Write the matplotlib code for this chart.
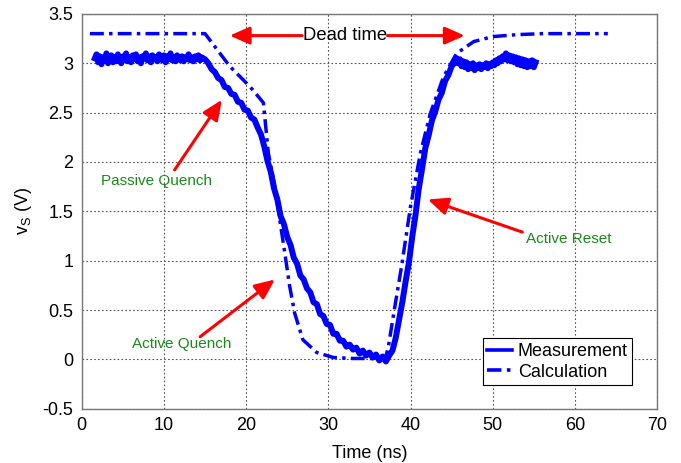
import matplotlib
matplotlib.use('Agg')
import matplotlib.pyplot as plt

# --- fontes ---
plt.rcParams['font.family'] = ['Liberation Sans', 'DejaVu Sans']
plt.rcParams['mathtext.fontset'] = 'custom'
plt.rcParams['mathtext.rm'] = 'Liberation Sans'
plt.rcParams['mathtext.it'] = 'Liberation Sans'

# Medição (ns, V) - patamar inicial
meas_t = [1.6, 1.8, 2.0, 2.2, 2.4, 2.6, 2.8, 3.0, 3.2, 3.4, 3.6, 3.8, 4.0, 4.2, 4.4, 4.6,
          4.8, 5.0, 5.2, 5.4, 5.6, 5.8, 6.0, 6.2, 6.4, 6.6, 6.8, 7.0, 7.2, 7.4, 7.6, 7.8,
          8.0, 8.2, 8.4, 8.6, 8.8, 9.0, 9.2, 9.4, 9.6, 9.8, 10.0, 10.2, 10.4, 10.6, 10.8,
          11.0, 11.2, 11.4, 11.6, 11.8, 12.0, 12.2, 12.4, 12.6, 12.8, 13.0, 13.2, 13.4,
          13.6, 13.8, 14.0, 14.2, 14.4, 14.6, 14.8, 15.0, 15.2,
          # queda
          15.4, 15.8, 16.2, 16.6, 17.0, 17.4, 17.8, 18.2, 18.6, 19.0, 19.4, 19.8, 20.2,
          20.6, 21.0, 21.4, 21.8, 22.2, 22.6, 23.0, 23.4, 23.8, 24.2, 24.6, 25.0, 25.4,
          25.8, 26.2, 26.6, 27.0, 27.4, 27.8, 28.2, 28.6, 29.0, 29.4, 29.8, 30.2, 30.6,
          31.0, 31.4, 31.8, 32.2, 32.6, 33.0, 33.4, 33.8, 34.2, 34.6, 35.0, 35.4, 35.8,
          36.2, 36.6, 37.0, 37.4, 37.8,
          # reset
          38.2, 38.6, 39.0, 39.4, 39.8, 40.2, 40.6, 41.0, 41.4, 41.8, 42.2, 42.6, 43.0,
          43.4, 43.8, 44.2, 44.6, 45.0, 45.4, 45.6,
          # patamar final
          45.8, 46.0, 46.2, 46.4, 46.6, 46.8, 47.0, 47.2, 47.4, 47.6, 47.8, 48.0, 48.2,
          48.4, 48.6, 48.8, 49.0, 49.2, 49.4, 49.6, 49.8, 50.0, 50.2, 50.4, 50.6, 50.8,
          51.0, 51.2, 51.4, 51.6, 51.8, 52.0, 52.2, 52.4, 52.6, 52.8, 53.0, 53.2, 53.4,
          53.6, 53.8, 54.0, 54.2, 54.4, 54.6, 54.8, 55.0, 55.2]
meas_v = [3.05, 3.09, 3.01, 3.07, 2.99, 3.06, 3.03, 3.10, 3.00, 3.05, 3.08, 3.01, 3.06, 3.02,
          3.09, 3.04, 3.00, 3.07, 3.03, 3.10, 3.02, 3.06, 3.01, 3.08, 3.04, 3.09, 3.02, 3.06,
          3.00, 3.07, 3.05, 3.10, 3.03, 3.07, 3.01, 3.08, 3.04, 3.06, 3.02, 3.09, 3.05, 3.03,
          3.08, 3.01, 3.07, 3.04, 3.10, 3.03, 3.06, 3.02, 3.08, 3.05, 3.03, 3.07, 3.02, 3.06,
          3.04, 3.09, 3.03, 3.06, 3.02, 3.07, 3.04, 3.08, 3.03, 3.06, 3.05, 3.04, 3.02,
          # queda
          3.00, 2.94, 2.91, 2.85, 2.83, 2.76, 2.75, 2.69, 2.68, 2.61, 2.60, 2.53, 2.52,
          2.45, 2.43, 2.35, 2.28, 2.16, 2.01, 1.90, 1.73, 1.62, 1.45, 1.37, 1.24, 1.16,
          1.03, 0.97, 0.85, 0.81, 0.72, 0.68, 0.58, 0.56, 0.46, 0.44, 0.36, 0.35, 0.26,
          0.26, 0.19, 0.19, 0.13, 0.15, 0.10, 0.12, 0.06, 0.09, 0.04, 0.07, 0.02, 0.05,
          -0.01, 0.03, -0.02, 0.04, 0.09,
          # reset
          0.22, 0.40, 0.58, 0.79, 0.98, 1.24, 1.46, 1.73, 1.93, 2.14, 2.27, 2.42, 2.51,
          2.63, 2.70, 2.82, 2.88, 2.97, 3.01, 3.05,
          # patamar final
          3.00, 3.04, 2.97, 3.02, 2.96, 3.01, 2.94, 2.99, 2.95, 3.00, 2.93, 2.98, 2.95,
          2.99, 2.94, 2.98, 2.96, 3.00, 2.95, 2.99, 2.97, 3.01, 2.98, 3.03, 3.00, 3.05,
          3.02, 3.07, 3.04, 3.10, 3.03, 3.08, 3.02, 3.07, 3.01, 3.06, 2.99, 3.05, 2.98,
          3.04, 2.97, 3.03, 2.96, 3.02, 2.97, 3.03, 2.96, 3.01]

# Cálculo (ns, V)
calc_t = [1.0, 15.0, 18.0, 20.5, 22.1, 22.7, 23.5, 24.1, 24.7, 25.3, 25.9, 26.9, 28.6,
          30.6, 33.0, 36.0, 37.0, 37.3, 38.1, 38.9, 40.0, 41.2, 42.4, 44.0, 45.6, 47.7,
          50.0, 53.0, 56.0, 64.0]
calc_v = [3.30, 3.30, 2.97, 2.76, 2.60, 2.09, 1.75, 1.41, 1.08, 0.74, 0.47, 0.20, 0.07,
          0.02, 0.01, 0.01, 0.03, 0.13, 0.54, 0.94, 1.55, 2.09, 2.49, 2.86, 3.10, 3.22,
          3.27, 3.29, 3.30, 3.30]

x_ticks = [0, 10, 20, 30, 40, 50, 60, 70]
y_ticks = [-0.5, 0, 0.5, 1, 1.5, 2, 2.5, 3, 3.5]
y_tick_labels = ['-0.5', '0', '0.5', '1', '1.5', '2', '2.5', '3', '3.5']

AZUL = '#0000ff'
VERMELHO = '#ff0000'
VERDE = '#1a8a1a'

fig = plt.figure(figsize=(6.81, 4.63), dpi=100)
ax = fig.add_axes([0.120, 0.117, 0.845, 0.853])

ax.plot(meas_t, meas_v, color=AZUL, linewidth=4.3, label='Measurement')
ax.plot(calc_t, calc_v, color=AZUL, linewidth=2.5, linestyle=(0, (4, 1.5, 1, 1.5)),
        label='Calculation')

ax.set_xlim(0, 70)
ax.set_ylim(-0.5, 3.5)
ax.set_xticks(x_ticks)
ax.set_yticks(y_ticks)
ax.set_yticklabels(y_tick_labels)
ax.tick_params(labelsize=13, length=0, pad=6)
ax.grid(True, linestyle=(0, (1.5, 2)), color='#555555', linewidth=0.8)
for s in ax.spines.values():
    s.set_color('#777777')
    s.set_linewidth(1.0)

ax.set_xlabel('Time (ns)', fontsize=13, labelpad=8)
ax.set_ylabel(r'v$_{\rm S}$ (V)', fontsize=13, labelpad=6)

seta = dict(arrowstyle='-|>,head_length=0.5,head_width=0.22', color=VERMELHO, lw=2.2,
            mutation_scale=24, shrinkA=0, shrinkB=0)

# Dead time
ax.text(32.0, 3.28, 'Dead time', fontsize=13.3, ha='center', va='center', color='black')
ax.annotate('', xy=(18.0, 3.28), xytext=(26.8, 3.28), arrowprops=seta)
ax.annotate('', xy=(46.6, 3.28), xytext=(37.2, 3.28), arrowprops=seta)

# Anotações verdes
ax.annotate('', xy=(17.05, 2.63), xytext=(11.3, 1.92), arrowprops=seta)
ax.text(9.1, 1.81, 'Passive Quench', fontsize=11, color=VERDE, ha='center', va='center')

ax.annotate('', xy=(23.5, 0.81), xytext=(14.4, 0.23), arrowprops=seta)
ax.text(12.1, 0.16, 'Active Quench', fontsize=11, color=VERDE, ha='center', va='center')

ax.annotate('', xy=(42.1, 1.62), xytext=(53.6, 1.29), arrowprops=seta)
ax.text(59.2, 1.22, 'Active Reset', fontsize=11, color=VERDE, ha='center', va='center')

leg = ax.legend(loc='lower right', bbox_to_anchor=(0.957, 0.06), fontsize=13,
                fancybox=False, framealpha=1, edgecolor='black', handlelength=1.4,
                handletextpad=0.3, borderpad=0.25, labelspacing=0.2, borderaxespad=0)
leg.get_frame().set_linewidth(0.8)
for linha in leg.get_lines():
    linha.set_linewidth(2.6)

fig.savefig('out.png', dpi=100)
